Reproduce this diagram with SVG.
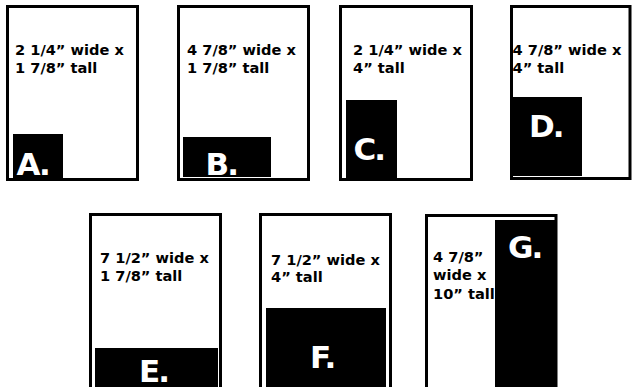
<svg xmlns="http://www.w3.org/2000/svg" width="632" height="387" viewBox="0 0 632 387">
<style>
.frame{fill:#fff;stroke:#000;stroke-width:3}
.fill{fill:#000}
.lbl{font-family:"DejaVu Sans","Verdana",sans-serif;font-weight:bold;font-size:14.6px;fill:#000}
.big{font-family:"DejaVu Sans","Verdana",sans-serif;font-weight:bold;font-size:31px;fill:#fff;letter-spacing:-2px}
</style>
<rect width="632" height="387" fill="#fff"/>
<g id="nodeA">
<rect class="frame" x="7.5" y="6.5" width="130" height="173"/>
<rect class="fill" x="13" y="134" width="50" height="44"/>
<text class="lbl" x="15" y="55">2 1/4” wide x</text>
<text class="lbl" x="15" y="73">1 7/8” tall</text>
<text class="big" x="16.5" y="175">A.</text>
</g>
<g id="nodeB">
<rect class="frame" x="178.5" y="6.5" width="130" height="173"/>
<rect class="fill" x="183" y="137" width="88" height="40"/>
<text class="lbl" x="187" y="55">4 7/8” wide x</text>
<text class="lbl" x="187" y="73">1 7/8” tall</text>
<text class="big" x="205.5" y="175">B.</text>
</g>
<g id="nodeC">
<rect class="frame" x="340.5" y="6.5" width="131" height="173"/>
<rect class="fill" x="346" y="100" width="51" height="80"/>
<text class="lbl" x="353" y="55">2 1/4” wide x</text>
<text class="lbl" x="353" y="73">4” tall</text>
<text class="big" x="353.5" y="160">C.</text>
</g>
<g id="nodeD">
<rect class="frame" x="511.5" y="6.5" width="118.5" height="172"/>
<rect class="fill" x="513" y="97" width="69" height="79"/>
<text class="lbl" x="512.5" y="55">4 7/8” wide x</text>
<text class="lbl" x="512.5" y="73">4” tall</text>
<text class="big" x="529" y="137">D.</text>
</g>
<g id="nodeE">
<rect class="frame" x="90.5" y="214.5" width="130" height="190"/>
<rect class="fill" x="95" y="348" width="123" height="50"/>
<text class="lbl" x="100" y="263">7 1/2” wide x</text>
<text class="lbl" x="100" y="281">1 7/8” tall</text>
<text class="big" x="139" y="382">E.</text>
</g>
<g id="nodeF">
<rect class="frame" x="260.5" y="214.5" width="130" height="190"/>
<rect class="fill" x="266" y="308" width="120" height="90"/>
<text class="lbl" x="271" y="265">7 1/2” wide x</text>
<text class="lbl" x="271" y="282">4” tall</text>
<text class="big" x="310" y="368">F.</text>
</g>
<g id="nodeG">
<rect class="frame" x="426.5" y="215.5" width="129.5" height="190"/>
<rect class="fill" x="495" y="220" width="62" height="180"/>
<text class="lbl" x="433" y="262">4 7/8”</text>
<text class="lbl" x="433" y="280">wide x</text>
<text class="lbl" x="433" y="299">10” tall</text>
<text class="big" x="508" y="258">G.</text>
</g>
<g id="connectors"/>
</svg>
